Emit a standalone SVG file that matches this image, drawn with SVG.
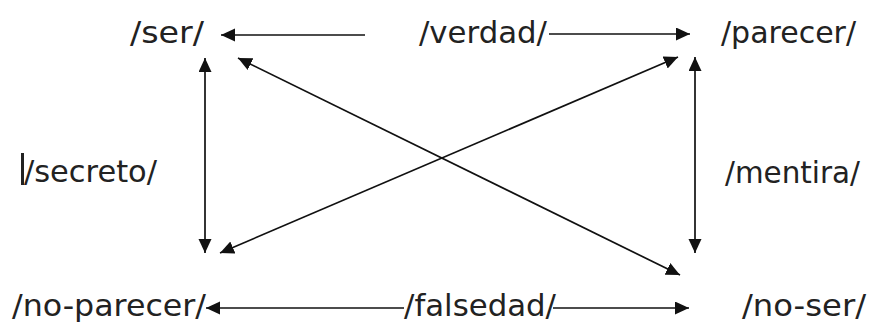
<svg xmlns="http://www.w3.org/2000/svg" width="871" height="325" viewBox="0 0 871 325">
<style>
.t{font-family:"DejaVu Sans",Verdana,sans-serif;font-size:30px;fill:#222}
.c{stroke:#111;stroke-width:1.7;fill:none}
</style>
<defs>
<marker id="ah" markerUnits="userSpaceOnUse" markerWidth="16" markerHeight="14" refX="14" refY="6.5" orient="auto-start-reverse">
<path d="M0,0 L14,6.5 L0,13 z" fill="#111"/>
</marker>
</defs>
<rect width="871" height="325" fill="#fff"/>
<g id="ser"><text class="t" x="130" y="43" textLength="74" lengthAdjust="spacingAndGlyphs">/ser/</text></g>
<g id="verdad"><text class="t" x="419" y="43" textLength="128" lengthAdjust="spacingAndGlyphs">/verdad/</text></g>
<g id="parecer"><text class="t" x="721" y="43">/parecer/</text></g>
<g id="secreto"><rect x="21" y="153" width="3" height="32" fill="#222"/><text class="t" x="24" y="182" textLength="133" lengthAdjust="spacingAndGlyphs">/secreto/</text></g>
<g id="mentira"><text class="t" x="725" y="183" textLength="135" lengthAdjust="spacingAndGlyphs">/mentira/</text></g>
<g id="no-parecer"><text class="t" x="12" y="316" textLength="194" lengthAdjust="spacingAndGlyphs">/no-parecer/</text></g>
<g id="falsedad"><text class="t" x="404" y="316" textLength="152" lengthAdjust="spacingAndGlyphs">/falsedad/</text></g>
<g id="no-ser"><text class="t" x="742" y="316" textLength="124" lengthAdjust="spacingAndGlyphs">/no-ser/</text></g>
<g id="connectors">
<line class="c" x1="365" y1="35" x2="221" y2="35" marker-end="url(#ah)"/>
<line class="c" x1="549" y1="34" x2="690" y2="34" marker-end="url(#ah)"/>
<line class="c" x1="205" y1="58" x2="205" y2="253" marker-start="url(#ah)" marker-end="url(#ah)"/>
<line class="c" x1="695" y1="57" x2="695" y2="253" marker-start="url(#ah)" marker-end="url(#ah)"/>
<line class="c" x1="238" y1="58" x2="680" y2="275" marker-start="url(#ah)" marker-end="url(#ah)"/>
<line class="c" x1="678" y1="57" x2="220" y2="253" marker-start="url(#ah)" marker-end="url(#ah)"/>
<line class="c" x1="404" y1="308" x2="206" y2="308" marker-end="url(#ah)"/>
<line class="c" x1="553" y1="308" x2="689" y2="308" marker-end="url(#ah)"/>
</g>
</svg>
